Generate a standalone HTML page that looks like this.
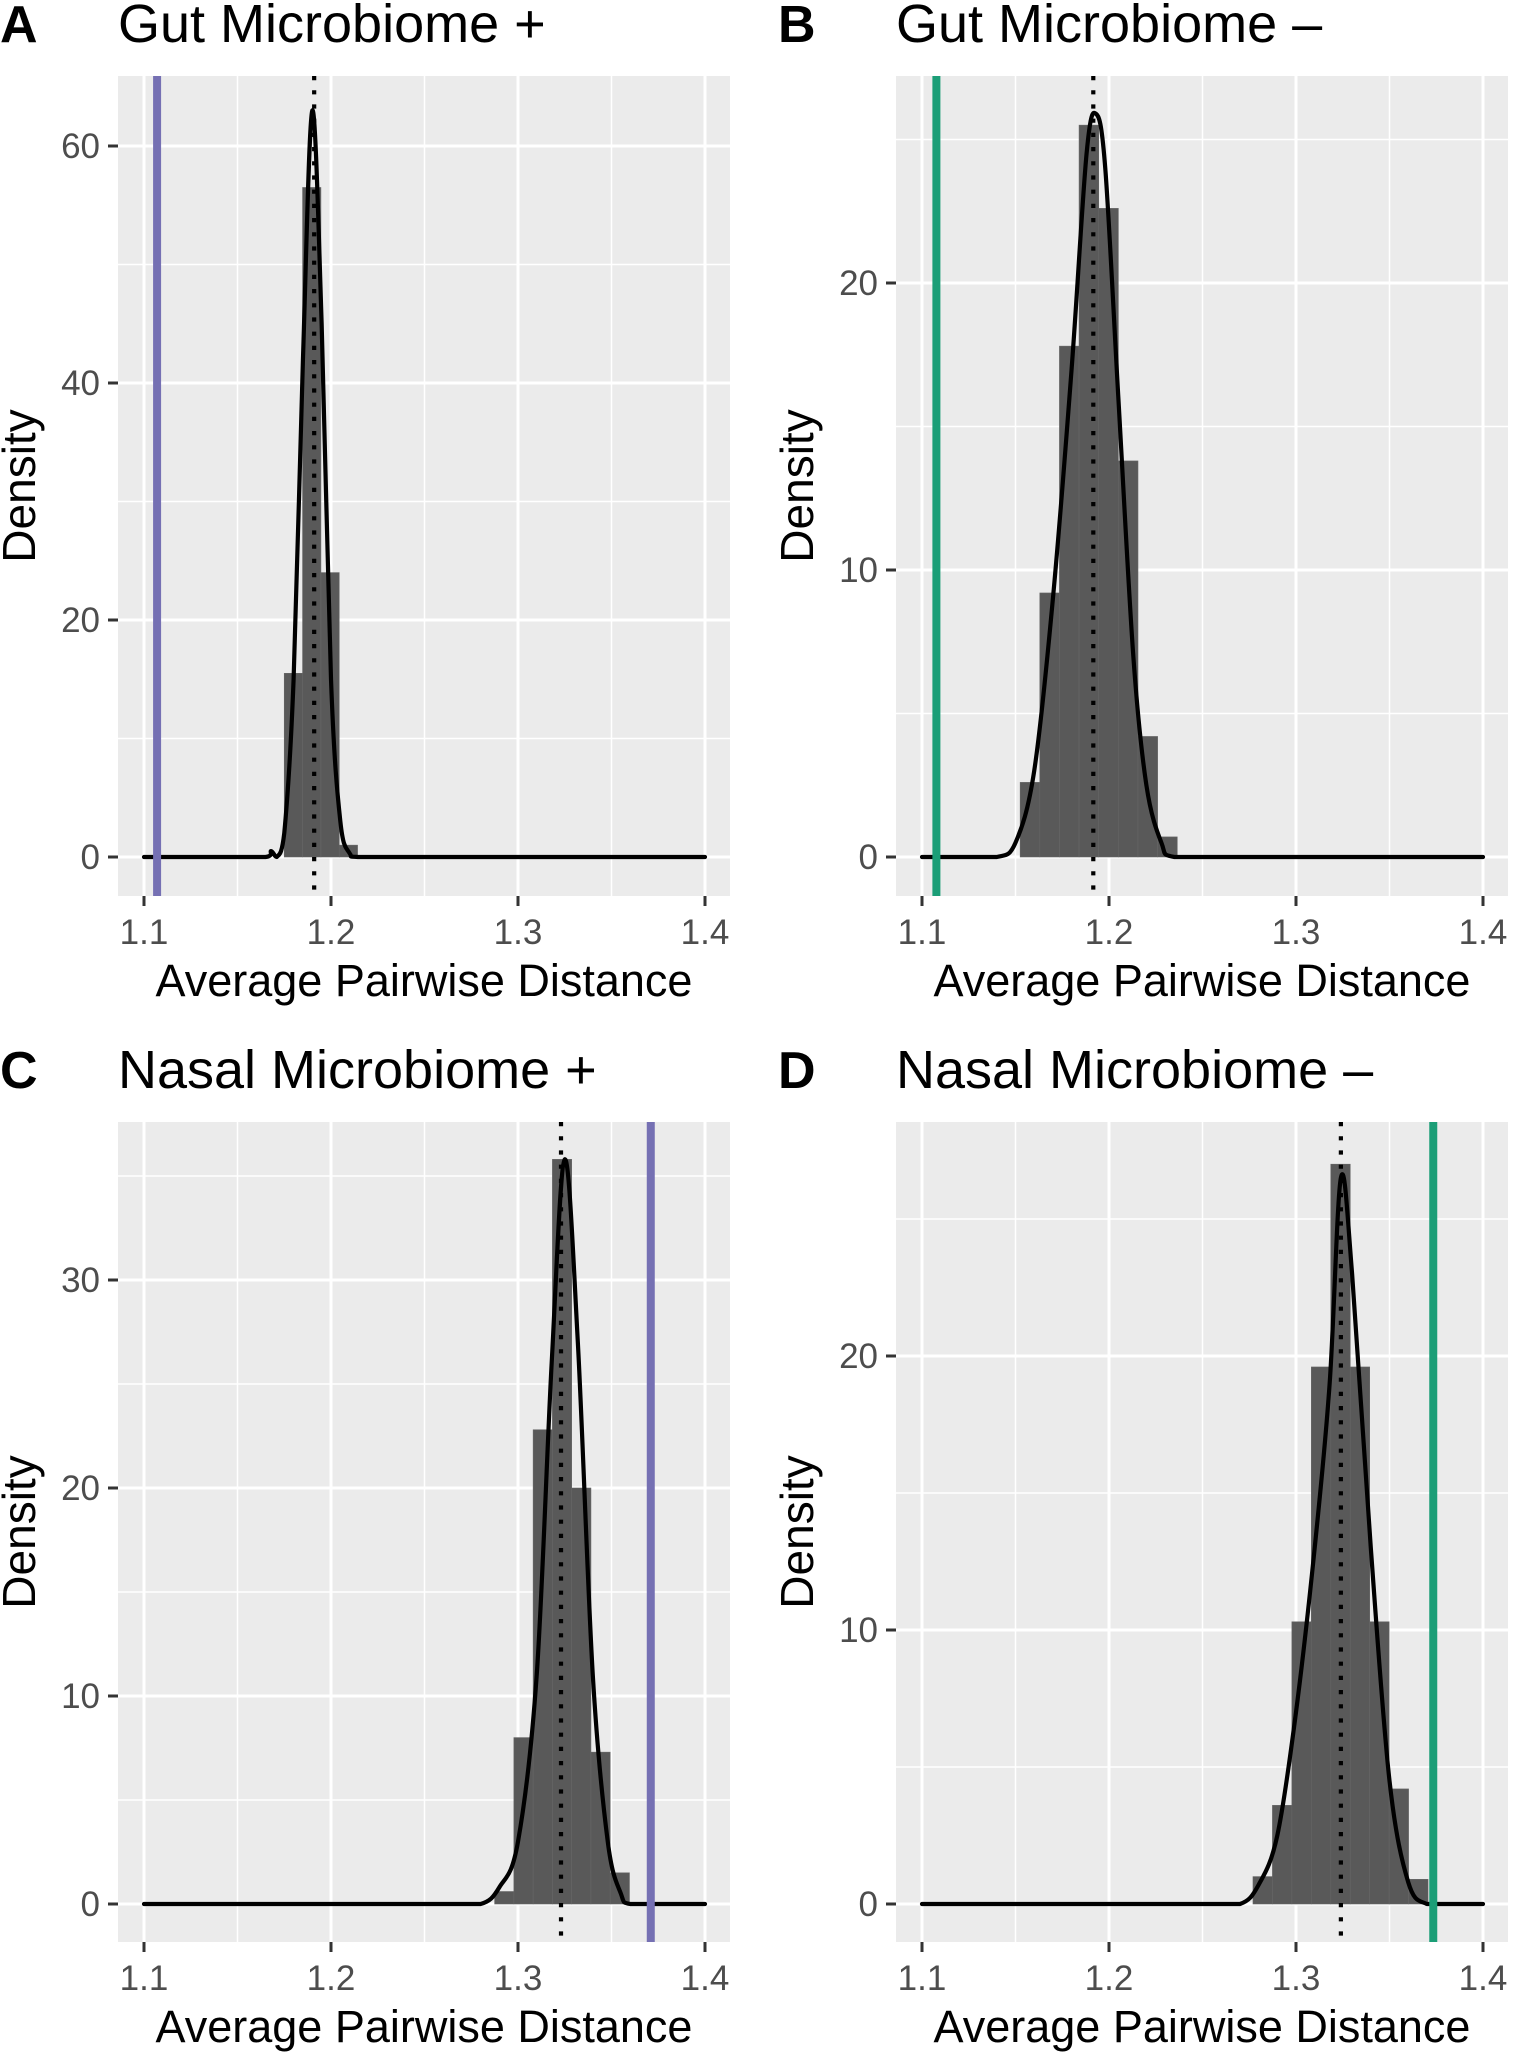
<!DOCTYPE html>
<html><head><meta charset="utf-8">
<style>
html,body{margin:0;padding:0;background:#fff;}
svg{display:block;font-family:"Liberation Sans",sans-serif;}
</style></head>
<body>
<svg id="fig" width="1515" height="2057" viewBox="0 0 1515 2057" xmlns="http://www.w3.org/2000/svg"></svg>
<script>
// Panel A data
const aBinStart = 1.175, aBinWidth = 0.0098;
const aBins = [15.5, 56.5, 24, 1];
const aDensX = [1.1,1.14,1.165,1.168,1.171,1.175,1.18,1.185,1.19,1.195,1.2,1.205,1.21,1.215,1.25,1.4];
const aDensY = [0,0,0,0.5,0,2,15,42,63,45,15,3,0.3,0,0,0];
const aMean = 1.191, aObs = 1.107;
const aYTicks = [0,20,40,60];
// Panel B data
const bBinStart = 1.1525, bBinWidth = 0.0105;
const bBins = [2.6, 9.2, 17.8, 25.5, 22.6, 13.8, 4.2, 0.7];
const bDensX = [1.1,1.12,1.14,1.15,1.16,1.17,1.18,1.188,1.193,1.198,1.205,1.213,1.22,1.228,1.235,1.27,1.4];
const bDensY = [0,0,0,0.5,3,9,17,24.5,25.9,24,16,7,2.5,0.5,0,0,0];
const bMean = 1.1916, bObs = 1.1077;
const bYTicks = [0,10,20];
// Panel C data
const cBinStart = 1.2875, cBinWidth = 0.0103;
const cBins = [0.6, 8, 22.8, 35.8, 20, 7.3, 1.5];
const cDensX = [1.1,1.26,1.28,1.29,1.30,1.31,1.318,1.325,1.332,1.34,1.348,1.355,1.36,1.38,1.4];
const cDensY = [0,0,0,0.8,3,11,26,35.8,27,11,3,0.5,0,0,0];
const cMean = 1.323, cObs = 1.371;
const cYTicks = [0,10,20,30];
// Panel D data
const dBinStart = 1.277, dBinWidth = 0.0104;
const dBins = [1, 3.6, 10.3, 19.6, 27, 19.6, 10.3, 4.2, 0.9];
const dDensX = [1.1,1.25,1.27,1.28,1.29,1.30,1.31,1.318,1.324,1.33,1.34,1.35,1.36,1.37,1.385,1.4];
const dDensY = [0,0,0,0.7,2.5,7,13,19,26.5,23,13,4.5,0.8,0,0,0];
const dMean = 1.324, dObs = 1.3734;
const dYTicks = [0,10,20];
const xTicks = [1.1,1.2,1.3,1.4];
const xMinor = [1.15,1.25,1.35];

const NS = "http://www.w3.org/2000/svg";
const svg = document.getElementById('fig');
function mk(tag, attrs, parent){
  const e = document.createElementNS(NS, tag);
  for (const k in attrs) e.setAttribute(k, attrs[k]);
  (parent||svg).appendChild(e); return e;
}

function panel(cfg){
  const g = mk('g', {});
  
  
  const L = cfg.left, R = cfg.left + 612, T = cfg.top, B = cfg.top + 820;
  const x0px = L + 26, xpx01 = 187;
  const X = v => x0px + (v - 1.1) / 0.1 * xpx01;
  const Y = v => cfg.zeroY - v * cfg.pxPerUnit;
  const bg = mk('rect', {x:L, y:T, width:R-L, height:B-T, fill:'#ebebeb'}, g);
  
  
  xMinor.forEach(v => mk('line', {x1:X(v), x2:X(v), y1:T, y2:B, stroke:'#fff', 'stroke-width':1.5}, g));
  cfg.yTicks.forEach(v => { const m = v + cfg.yStep/2; if (Y(m) > T) mk('line', {x1:L, x2:R, y1:Y(m), y2:Y(m), stroke:'#fff', 'stroke-width':1.5}, g); });
  { const m = -cfg.yStep/2; if (Y(m) < B) mk('line', {x1:L, x2:R, y1:Y(m), y2:Y(m), stroke:'#fff', 'stroke-width':1.5}, g); }
  xTicks.forEach(v => mk('line', {x1:X(v), x2:X(v), y1:T, y2:B, stroke:'#fff', 'stroke-width':3}, g));
  cfg.yTicks.forEach(v => mk('line', {x1:L, x2:R, y1:Y(v), y2:Y(v), stroke:'#fff', 'stroke-width':3}, g));
  cfg.bins.forEach((h,i) => {
    const xs = cfg.binStart + i*cfg.binWidth;
    const r = mk('rect', {x:X(xs), y:Y(h), width:X(xs+cfg.binWidth)-X(xs), height:Y(0)-Y(h), fill:'#595959', stroke:'#666', 'stroke-width':0.6}, g);
    
    
  });
  const pts = cfg.densX.map((x,i)=>[X(x), Y(cfg.densY[i])]);
  const y0 = Y(0);
  let d = 'M' + pts[0][0] + ',' + pts[0][1];
  for (let i=1;i<pts.length;i++){
    const p0 = pts[Math.max(0,i-2)], p1 = pts[i-1], p2 = pts[i], p3 = pts[Math.min(pts.length-1,i+1)];
    const c1x = p1[0] + (p2[0]-p0[0])/6, c1y = Math.min(y0, p1[1] + (p2[1]-p0[1])/6);
    const c2x = p2[0] - (p3[0]-p1[0])/6, c2y = Math.min(y0, p2[1] - (p3[1]-p1[1])/6);
    d += ' C' + c1x + ',' + c1y + ' ' + c2x + ',' + c2y + ' ' + p2[0] + ',' + p2[1];
  }
  const dp = mk('path', {d:d, fill:'none', stroke:'#000', 'stroke-width':4.2, 'stroke-linejoin':'round', 'stroke-linecap':'round'}, g);
  
  
  const ol = mk('line', {x1:X(cfg.obs), x2:X(cfg.obs), y1:T, y2:B, stroke:cfg.color, 'stroke-width':8}, g);
  
  
  const ml = mk('line', {x1:X(cfg.mean), x2:X(cfg.mean), y1:T, y2:B, stroke:'#000', 'stroke-width':4.2, 'stroke-dasharray':'4.2,10'}, g);
  
  
  cfg.yTicks.forEach(v => {
    mk('line', {x1:L-10, x2:L, y1:Y(v), y2:Y(v), stroke:'#333', 'stroke-width':3}, g);
    const t = mk('text', {x:L-18, y:Y(v)+12, 'text-anchor':'end', 'font-size':35, fill:'#4d4d4d'}, g);
    t.textContent = v;
    
    
  });
  xTicks.forEach(v => {
    mk('line', {x1:X(v), x2:X(v), y1:B, y2:B+10, stroke:'#333', 'stroke-width':3}, g);
    const t = mk('text', {x:X(v), y:B+48, 'text-anchor':'middle', 'font-size':35, fill:'#4d4d4d'}, g);
    t.textContent = v.toFixed(1);
    
    
  });
  const xt = mk('text', {x:(L+R)/2, y:B+100, 'text-anchor':'middle', 'font-size':45, fill:'#000'}, g);
  xt.textContent = 'Average Pairwise Distance';
  
  
  const cy = (T+B)/2;
  const yt = mk('text', {x:0, y:0, 'text-anchor':'middle', 'font-size':46, fill:'#000', transform:'translate('+(cfg.left-83)+','+cy+') rotate(-90)'}, g);
  yt.textContent = 'Density';
  
  
  const lt = mk('text', {x:cfg.left-118, y:T-34, 'font-size':52, 'font-weight':'bold', fill:'#000'}, g);
  lt.textContent = cfg.letter;
  
  
  const tt = mk('text', {x:L, y:T-34, 'font-size':54, fill:'#000'}, g);
  tt.textContent = cfg.title;
  
  
}

panel({letter:'A', title:'Gut Microbiome +', left:118, top:76, zeroY:857, pxPerUnit:237/20, yTicks:aYTicks, yStep:20,
  bins:aBins, binStart:aBinStart, binWidth:aBinWidth, densX:aDensX, densY:aDensY, mean:aMean, obs:aObs, color:'#7570b3'});
panel({letter:'B', title:'Gut Microbiome \u2013', left:896, top:76, zeroY:857, pxPerUnit:287/10, yTicks:bYTicks, yStep:10,
  bins:bBins, binStart:bBinStart, binWidth:bBinWidth, densX:bDensX, densY:bDensY, mean:bMean, obs:bObs, color:'#1b9e77'});
panel({letter:'C', title:'Nasal Microbiome +', left:118, top:1122, zeroY:1904, pxPerUnit:208/10, yTicks:cYTicks, yStep:10,
  bins:cBins, binStart:cBinStart, binWidth:cBinWidth, densX:cDensX, densY:cDensY, mean:cMean, obs:cObs, color:'#7570b3'});
panel({letter:'D', title:'Nasal Microbiome \u2013', left:896, top:1122, zeroY:1904, pxPerUnit:274/10, yTicks:dYTicks, yStep:10,
  bins:dBins, binStart:dBinStart, binWidth:dBinWidth, densX:dDensX, densY:dDensY, mean:dMean, obs:dObs, color:'#1b9e77'});
</script>
</body></html>
